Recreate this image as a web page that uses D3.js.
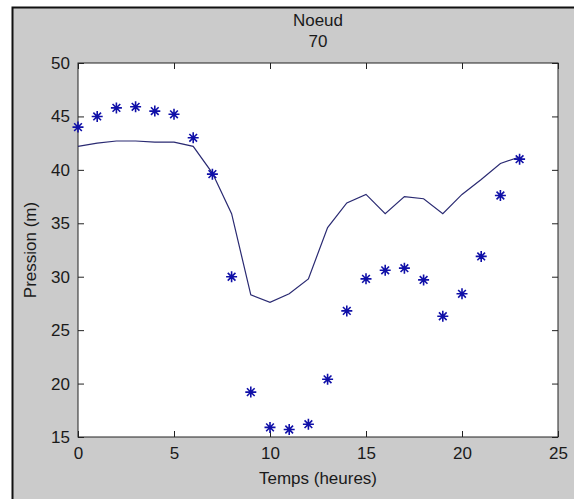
<!DOCTYPE html>
<html>
<head>
<script src="https://d3js.org/d3.v7.min.js"></script>
  <meta charset="utf-8">
  <title>Noeud 70</title>
<style>
  body { margin: 0; background: #fff; }
  text { font-family: "Liberation Sans", Arial, sans-serif; fill: #1a1a1a; }
</style>
</head>
<body>
<svg width="574" height="499"></svg>
<script>
	// heures 0..23
	var hours = d3.range(0, 24);
	// pression mesuree (etoiles)
	var measured = [44.0, 45.0, 45.8, 45.9, 45.5, 45.2, 43.0, 39.6, 30.0, 19.2, 15.9, 15.7,
	                16.2, 20.4, 26.8, 29.8, 30.6, 30.8, 29.7, 26.3, 28.4, 31.9, 37.6, 41.0];
	// pression simulee (ligne)
	var simulated = [42.2, 42.5, 42.7, 42.7, 42.6, 42.6, 42.2, 39.7, 35.9, 28.3, 27.6, 28.4,
	                 29.8, 34.6, 36.9, 37.7, 35.9, 37.5, 37.3, 35.9, 37.7, 39.1, 40.6, 41.2];
	var xTicks = [0, 5, 10, 15, 20, 25];
	var yTicks = [15, 20, 25, 30, 35, 40, 45, 50];

	var svg = d3.select('svg');
	// note: 'top' est deja window.top, donc autres noms
	var pLeft = 78, pRight = 558, pTop = 63, pBottom = 437;

	// fond gris + cadre noir (haut et gauche)
	svg.append('rect').attr('x', 12).attr('y', 7).attr('width', 562).attr('height', 492)
		.attr('fill', '#cbcbcb');
	svg.append('path').attr('d', 'M12.5,499V7.5H574')
		.attr('fill', 'none').attr('stroke', '#111').attr('stroke-width', 2);

	var x = d3.scaleLinear().domain([0, 25]).range([pLeft, pRight]);
	var y = d3.scaleLinear().domain([15, 50]).range([pBottom, pTop]);

	svg.append('rect').attr('x', pLeft).attr('y', pTop)
		.attr('width', pRight - pLeft).attr('height', pBottom - pTop).attr('fill', '#fff');

	// axes, ticks vers l'interieur sur les 4 cotes
	var fs = 17;
	svg.append('g').attr('transform', 'translate(0,' + pBottom + ')')
		.call(d3.axisBottom(x).tickValues(xTicks).tickSize(-6).tickPadding(10).tickSizeOuter(0));
	svg.append('g').attr('transform', 'translate(0,' + pTop + ')')
		.call(d3.axisTop(x).tickValues(xTicks).tickSize(-6).tickFormat('').tickSizeOuter(0));
	svg.append('g').attr('transform', 'translate(' + pLeft + ',0)')
		.call(d3.axisLeft(y).tickValues(yTicks).tickSize(-6).tickPadding(8).tickSizeOuter(0));
	svg.append('g').attr('transform', 'translate(' + pRight + ',0)')
		.call(d3.axisRight(y).tickValues(yTicks).tickSize(-6).tickFormat('').tickSizeOuter(0));

	svg.selectAll('.domain').remove();
	svg.selectAll('.tick line').attr('stroke', '#222');
	svg.selectAll('.tick text').attr('font-size', fs).attr('fill', '#1a1a1a')
		.attr('font-family', '"Liberation Sans", Arial, sans-serif');

	svg.append('rect').attr('x', pLeft).attr('y', pTop)
		.attr('width', pRight - pLeft).attr('height', pBottom - pTop)
		.attr('fill', 'none').attr('stroke', '#222').attr('stroke-width', 1);

	// ligne simulee
	var line = d3.line()
		.x(function(d, i) { return x(hours[i]); })
		.y(function(d) { return y(d); });
	svg.append('path').datum(simulated)
		.attr('d', line).attr('fill', 'none')
		.attr('stroke', '#2a2a72').attr('stroke-width', 1.2);

	// etoiles mesurees
	var r = 5.5;
	var star = 'M' + (-r) + ',0H' + r + 'M0,' + (-r) + 'V' + r +
		'M' + (-r * 0.7) + ',' + (-r * 0.7) + 'L' + (r * 0.7) + ',' + (r * 0.7) +
		'M' + (-r * 0.7) + ',' + (r * 0.7) + 'L' + (r * 0.7) + ',' + (-r * 0.7);
	svg.selectAll('.star')
			.data(measured)
		.enter().append('path')
			.attr('class', 'star')
			.attr('d', star)
			.attr('transform', function(d, i) { return 'translate(' + x(hours[i]) + ',' + y(d) + ')'; })
			.attr('fill', 'none').attr('stroke', '#1010a8').attr('stroke-width', 1.6);

	// titres
	var cx = (pLeft + pRight) / 2;
	svg.append('text').attr('x', cx).attr('y', 26).attr('text-anchor', 'middle')
		.attr('font-size', fs).text('Noeud');
	svg.append('text').attr('x', cx).attr('y', 47).attr('text-anchor', 'middle')
		.attr('font-size', fs).text('70');
	svg.append('text').attr('x', cx).attr('y', 484).attr('text-anchor', 'middle')
		.attr('font-size', fs).text('Temps (heures)');
	svg.append('text').attr('transform', 'translate(36,' + ((pTop + pBottom) / 2) + ') rotate(-90)')
		.attr('text-anchor', 'middle').attr('font-size', fs).text('Pression (m)');
</script>
</body>
</html>
